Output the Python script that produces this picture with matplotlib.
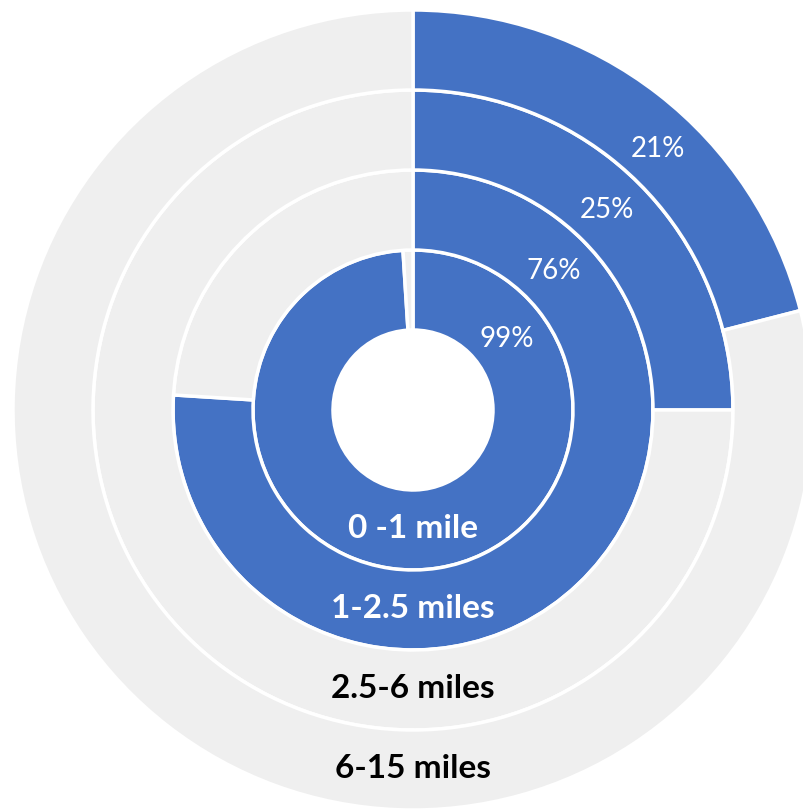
import numpy as np
import matplotlib.pyplot as plt

# кольца изнутри наружу
rings = ['0 -1 mile', '1-2.5 miles', '2.5-6 miles', '6-15 miles']
shares = [99, 76, 25, 21]
label_colors = ['white', 'white', 'black', 'black']

blue = '#4472C4'
grey = '#EFEFEF'

plt.rcParams['font.family'] = ['Lato', 'DejaVu Sans']

fig = plt.figure(figsize=(8.04, 8.11), dpi=100)
ax = fig.add_axes([13 / 804, 1 / 811, 800 / 804, 800 / 811])
ax.set_xlim(-1, 1)
ax.set_ylim(-1, 1)
ax.set_aspect('equal')
ax.axis('off')

hole = 0.2
width = 0.2
pct_angles = [53, 45.4, 44.1, 43.2]  # угол подписи от верха, по часовой
for i, (name, pct) in enumerate(zip(rings, shares)):
    r = hole + width * (i + 1)
    wedges, _ = ax.pie([pct, 100 - pct], radius=r, startangle=90, counterclock=False,
                       colors=[blue, grey],
                       wedgeprops=dict(width=width, edgecolor='white', linewidth=2.5))
    for w in wedges:
        w.set_clip_on(False)
    mid = r - width / 2
    ang = np.deg2rad(pct_angles[i])
    rr = mid - 0.005
    ax.text(rr * np.sin(ang), rr * np.cos(ang), f'{pct}%', color='white',
            fontsize=20, ha='center', va='center')
    ax.text(0, -mid + 0.005, name, color=label_colors[i], fontsize=24,
            fontweight='bold', ha='center', va='center')

ax.set_xlim(-1, 1)
ax.set_ylim(-1, 1)
fig.savefig('out.png', dpi=100, facecolor='white')
